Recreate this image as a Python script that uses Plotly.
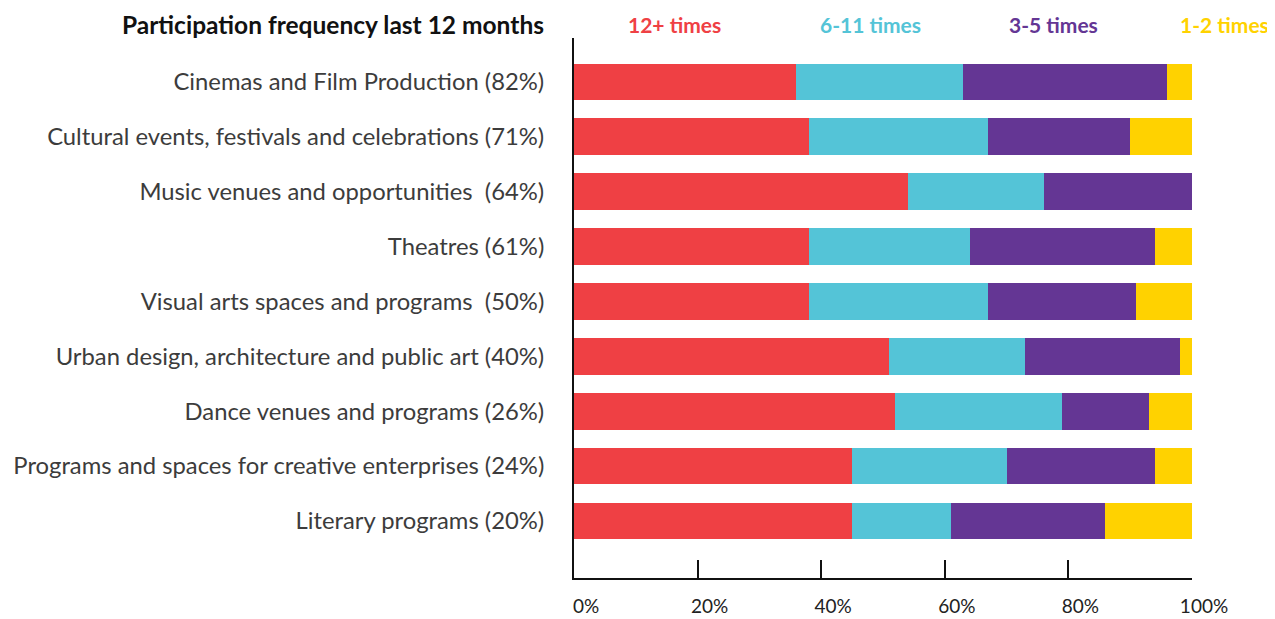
import plotly.graph_objects as go

categories = [
    "Cinemas and Film Production (82%)",
    "Cultural events, festivals and celebrations (71%)",
    "Music venues and opportunities  (64%)",
    "Theatres (61%)",
    "Visual arts spaces and programs  (50%)",
    "Urban design, architecture and public art (40%)",
    "Dance venues and programs (26%)",
    "Programs and spaces for creative enterprises (24%)",
    "Literary programs (20%)",
]
series_names = ["12+ times", "6-11 times", "3-5 times", "1-2 times"]
times_12_plus = [36, 38, 54, 38, 38, 51, 52, 45, 45]
times_6_11 = [27, 29, 22, 26, 29, 22, 27, 25, 16]
times_3_5 = [33, 23, 24, 30, 24, 25, 14, 24, 25]
times_1_2 = [4, 10, 0, 6, 9, 2, 7, 6, 14]
colors = ["#EF4044", "#54C4D7", "#643694", "#FFD200"]
x_tick_vals = [0, 20, 40, 60, 80, 100]
x_tick_text = ["0%", "20%", "40%", "60%", "80%", "100%"]

FONT = "Lato"

fig = go.Figure()
for name, vals, col in zip(series_names, [times_12_plus, times_6_11, times_3_5, times_1_2], colors):
    fig.add_trace(go.Bar(
        y=categories, x=vals, name=name, orientation="h",
        marker=dict(color=col, line=dict(width=0)),
        width=0.67, showlegend=False,
    ))

X0, X1 = 573, 1191
legend_x = [673, 869, 1052, 1223]
for name, col, px in zip(series_names, colors, legend_x):
    fig.add_annotation(
        x=(px - X0) / (X1 - X0), y=1.0, xref="paper", yref="paper",
        yshift=14, text=f"<b>{name}</b>", showarrow=False,
        font=dict(family=FONT, size=21, color=col), xanchor="center", yanchor="middle",
    )

fig.add_annotation(
    x=(545 - X0) / (X1 - X0), y=1.0, xref="paper", yref="paper", yshift=14,
    text="<b>Participation frequency last 12 months</b>", showarrow=False,
    font=dict(family=FONT, size=24.5, color="#111111"), xanchor="right", yanchor="middle",
)

fig.update_layout(
    barmode="stack",
    width=1275, height=619,
    margin=dict(l=566, r=91, t=30, b=49),
    plot_bgcolor="white", paper_bgcolor="white",
    font=dict(family=FONT, size=23, color="#3c3c3c"),
    xaxis=dict(
        range=[0, 100], tickvals=x_tick_vals, ticktext=x_tick_text,
        showgrid=False, zeroline=False,
        showline=True, linecolor="#111111", linewidth=2,
        ticks="inside", ticklen=18, tickwidth=2, tickcolor="#111111",
        ticklabelstandoff=10, ticklabelshift=12,
        tickfont=dict(family=FONT, size=19, color="#222222"),
        automargin=False,
    ),
    yaxis=dict(
        categoryorder="array", categoryarray=categories,
        range=[9.04, -0.8],
        showgrid=False, zeroline=False,
        showline=True, linecolor="#111111", linewidth=2,
        ticks="", ticklabelstandoff=23,
        tickfont=dict(family=FONT, size=23.8, color="#3c3c3c"),
        automargin=False,
    ),
)

fig.write_html("out.html")
